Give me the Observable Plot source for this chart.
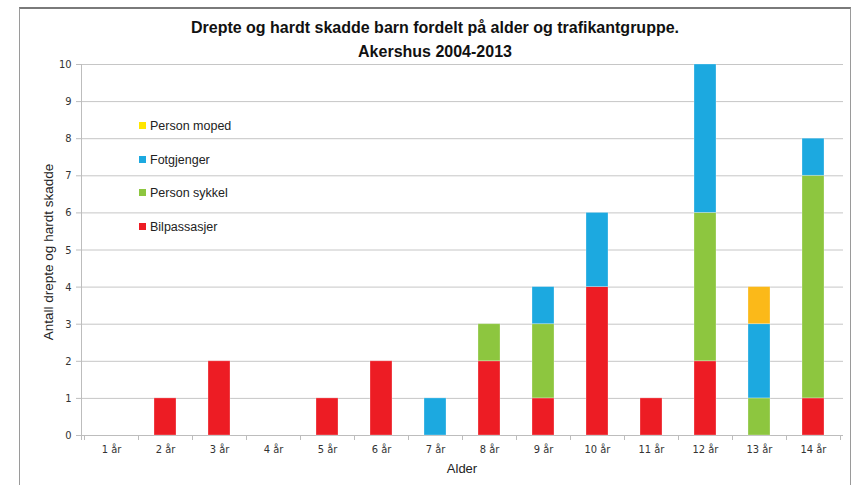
<!DOCTYPE html>
<html><head><meta charset="utf-8">
<script src="https://cdn.jsdelivr.net/npm/d3@7"></script>
<script src="https://cdn.jsdelivr.net/npm/@observablehq/plot@0.6"></script>
<style>
body{margin:0;background:#fff;font-family:"Liberation Sans",Arial,sans-serif;color:#222;}
#wrap{position:relative;width:859px;height:485px;overflow:hidden;background:#fff;}
#box{position:absolute;left:19px;top:7px;width:832px;height:500px;border:1px solid #9a9a9a;border-top:2px solid #7a7a7a;box-sizing:border-box;}
#chart{position:absolute;left:0;top:0;}
.title{position:absolute;left:0;width:870px;text-align:center;font-weight:bold;font-size:16px;color:#111;line-height:18px;}
#ylab{position:absolute;left:48px;top:252px;transform:translate(-50%,-50%) rotate(-90deg);white-space:nowrap;font-size:13.5px;color:#222;}
#xlab{position:absolute;left:462px;top:468px;transform:translate(-50%,-50%);font-size:13px;color:#222;}
.leg{position:absolute;left:139px;font-size:12.5px;color:#222;white-space:nowrap;line-height:14px;}
.leg i{display:inline-block;width:7px;height:7px;margin-right:4px;vertical-align:1px;}
</style></head>
<body><div id="wrap">
<div id="box"></div>
<div id="chart"></div>
<div class="title" style="top:19px">Drepte og hardt skadde barn fordelt på alder og trafikantgruppe.</div>
<div class="title" style="top:43px">Akershus 2004-2013</div>
<div id="ylab">Antall drepte og hardt skadde</div>
<div id="xlab">Alder</div>
<div id="legend"></div>
</div>
<script>
const ages = ["1 år","2 år","3 år","4 år","5 år","6 år","7 år","8 år","9 år","10 år","11 år","12 år","13 år","14 år"];
const groups = ["Bilpassasjer","Person sykkel","Fotgjenger","Person moped"];
const groupColors = ["#ED1C24","#8DC63F","#1CA9E0","#FBB919"];
const bilpassasjer = [0,1,2,0,1,2,0,2,1,4,1,2,0,1];
const personSykkel = [0,0,0,0,0,0,0,1,2,0,0,4,1,6];
const fotgjenger   = [0,0,0,0,0,0,1,0,1,2,0,4,2,1];
const personMoped  = [0,0,0,0,0,0,0,0,0,0,0,0,1,0];
const yTicks = [0,1,2,3,4,5,6,7,8,9,10];
const legendTop = [126,160,193,227];

const series = [bilpassasjer, personSykkel, fotgjenger, personMoped];
const rows = [];
groups.forEach((g, gi) => ages.forEach((a, ai) => {
  const v = series[gi][ai];
  if (v > 0) rows.push({age: a, group: g, value: v});
}));

function axisLines(index, scales, values, dims) {
  const x = scales.x, y = scales.y;
  const bw = typeof x.bandwidth === "function" ? x.bandwidth() : (x.bandwidth || 0);
  const step = x(ages[1]) - x(ages[0]);
  const y0 = y(0), yTop = y(10);
  const left = dims.marginLeft, right = dims.width - dims.marginRight;
  const g = d3.create("svg:g").attr("stroke", "#bdbdbd").attr("stroke-width", 1).attr("shape-rendering","crispEdges");
  g.append("line").attr("x1", left).attr("x2", left).attr("y1", yTop).attr("y2", y0 + 5);
  g.append("line").attr("x1", left).attr("x2", right).attr("y1", y0).attr("y2", y0);
  ages.forEach((a) => {
    const bx = x(a) + bw / 2 - step / 2;
    g.append("line").attr("x1", bx).attr("x2", bx).attr("y1", y0).attr("y2", y0 + 5);
  });
  const last = x(ages[ages.length - 1]) + bw / 2 + step / 2;
  g.append("line").attr("x1", last).attr("x2", last).attr("y1", y0).attr("y2", y0 + 5);
  return g.node();
}

const chart = Plot.plot({
  width: 859, height: 485,
  marginTop: 64, marginBottom: 50, marginLeft: 81, marginRight: 16,
  style: {fontFamily: '"Liberation Sans Narrow","DejaVu Sans Condensed","Liberation Sans",sans-serif', fontSize: "11px", color: "#333", background: "transparent"},
  x: {domain: ages, paddingInner: 0.6, paddingOuter: 0.3, label: null},
  y: {domain: [0, 10], label: null},
  color: {domain: groups, range: groupColors},
  marks: [
    Plot.gridY(yTicks, {stroke: "#c6c6c6", strokeOpacity: 1}),
    axisLines,
    Plot.barY(rows, {x: "age", y: "value", fill: "group", stroke: "#ffffff", strokeOpacity: 0.35, strokeWidth: 0.8}),
    Plot.axisY(yTicks, {tickSize: 5, tickPadding: 5, stroke: "#bdbdbd", fill: "#333", label: null, fontSize: 11}),
    Plot.axisX({tickSize: 0, tickPadding: 10, label: null, fill: "#333", fontSize: 11})
  ]
});
document.getElementById("chart").appendChild(chart);

const legendOrder = [3, 2, 1, 0];
const leg = document.getElementById("legend");
legendOrder.forEach((gi, k) => {
  const d = document.createElement("div");
  d.className = "leg";
  d.style.top = (legendTop[k] - 7) + "px";
  d.innerHTML = `<i style="background:${gi === 3 ? "#FFE600" : groupColors[gi]}"></i>${groups[gi]}`;
  leg.appendChild(d);
});
</script>
</body></html>
